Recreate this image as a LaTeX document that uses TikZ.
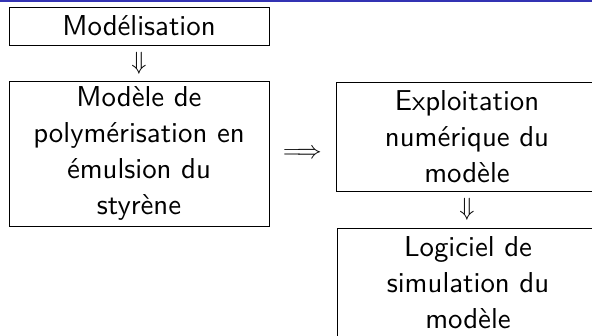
\documentclass[tikz,border=0pt]{standalone}
\usepackage{fontspec}
\setsansfont{lmsans10-regular}[Extension=.otf]
\usetikzlibrary{calc}
\definecolor{beamerblue}{RGB}{51,51,179}
\tikzset{
  box/.style={draw, line width=0.8pt, align=center, inner sep=0pt,
    font=\fontsize{28.8}{36}\selectfont\sffamily},
  sym/.style={inner sep=0pt, font=\fontsize{28.8}{36}\selectfont}
}
\begin{document}
\begin{tikzpicture}[x=1pt,y=1pt]
\useasboundingbox (0,0) rectangle (592,-335);
\fill[beamerblue] (0,0) rectangle (592,-1.5);
\node[box, minimum width=260pt, minimum height=38pt] (b1) at (139,-26) {Modélisation};
\node[box, minimum width=260pt, minimum height=145pt] (b2) at (139,-153.5) {Modèle de\\polymérisation en\\émulsion du\\styrène};
\node[box, minimum width=262pt, minimum height=109pt] (b3) at (467,-136.5) {Exploitation\\numérique du\\modèle};
\node[box, minimum width=262pt, minimum height=109pt] (b4) at (468,-282.5) {Logiciel de\\simulation du\\modèle};
\node[sym] (a1) at ($(b1.south)!0.5!(b2.north)$) {$\Downarrow$};
\node[sym] (a2) at ($(b2.east)!0.5!(b2.east -| b3.west)$) {$\Longrightarrow$};
\node[sym] (a3) at ($(b3.south)!0.5!(b3.south |- b4.north)$) {$\Downarrow$};
\end{tikzpicture}
\end{document}
